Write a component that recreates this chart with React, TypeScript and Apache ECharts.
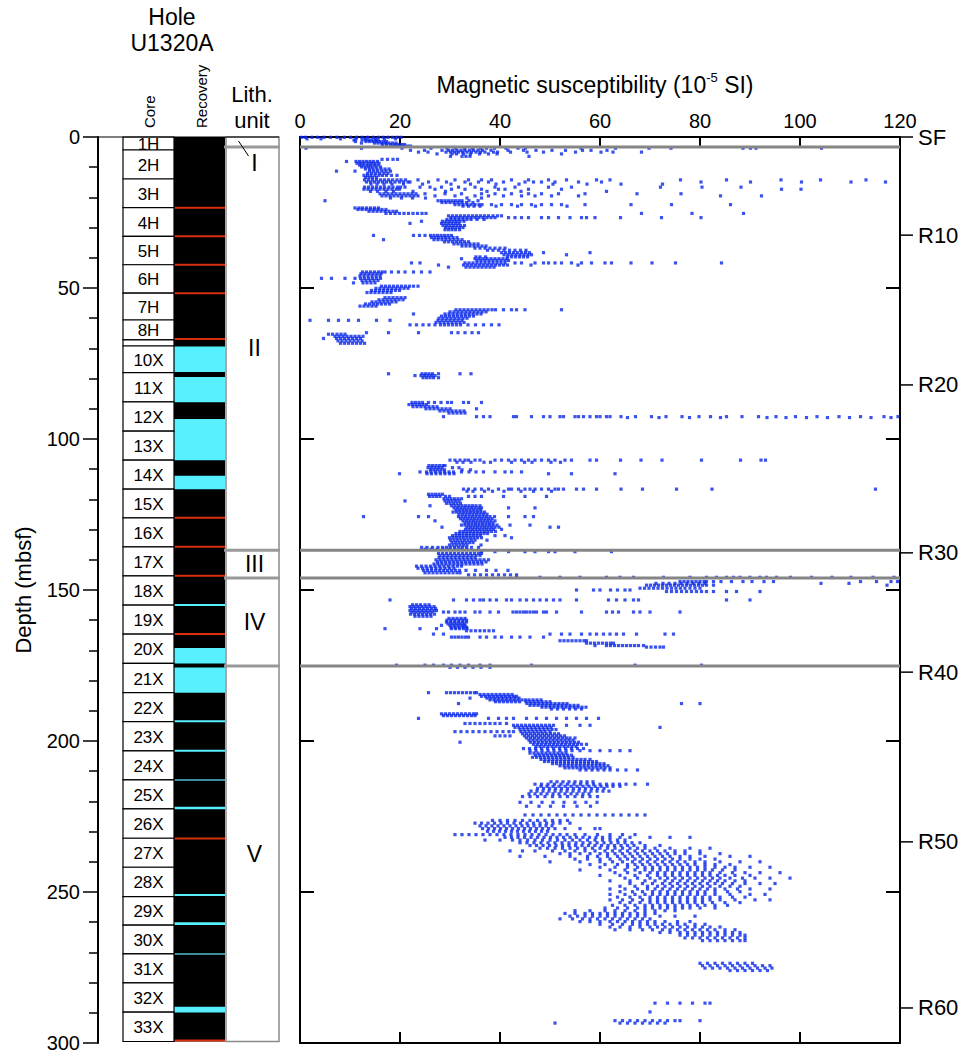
import React, { useEffect, useRef } from "react";
import * as echarts from "echarts";

const FONT = "'Liberation Sans', Arial, Helvetica, sans-serif";

// ---- Core column ----
const coreNames = ["1H","2H","3H","4H","5H","6H","7H","8H","9X","10X","11X","12X","13X","14X","15X","16X","17X","18X","19X","20X","21X","22X","23X","24X","25X","26X","27X","28X","29X","30X","31X","32X","33X"];
const coreTops = [0,4.3,13.9,23.4,32.9,42.3,51.7,60.6,67.2,69.2,78.0,87.7,97.4,107.0,116.6,126.1,135.7,145.3,155.0,164.6,174.3,184.0,193.6,203.3,212.9,222.5,232.2,241.8,251.5,261.0,270.5,280.1,289.8];
const coreBottoms = [4.3,13.9,23.4,32.9,42.3,51.7,60.6,67.2,69.2,78.0,87.7,97.4,107.0,116.6,126.1,135.7,145.3,155.0,164.6,174.3,184.0,193.6,203.3,212.9,222.5,232.2,241.8,251.5,261.0,270.5,280.1,289.8,299.5];

// ---- Recovery column ----
const recoveredTops = [0];
const recoveredBottoms = [299.5];
const gapTops = [69.4,79.5,93.4,112.2,154.6,169.2,175.7,193.1,202.9,221.8,250.7,260.0,288.0];
const gapBottoms = [77.8,87.8,107.0,116.6,155.1,174.3,184.0,193.6,203.3,222.6,251.3,260.9,289.9];
const voidDepths = [23.4,32.9,42.3,51.7,66.9,126.1,135.7,145.3,164.6,232.3,299.2];
const tealDepths = [212.9,270.5];

// ---- Lithologic units ----
const lithNames = ["I","II","III","IV","V"];
const lithTops = [0,3.3,136.8,146.0,175.2];
const lithBottoms = [3.3,136.8,146.0,175.2,299.5];
const lithLabelDepths = [8.6,70.0,141.4,160.6,237.4];

// ---- Seismic reflectors ----
const reflectorNames = ["SF","R10","R20","R30","R40","R50","R60"];
const reflectorDepths = [0,32.5,82.1,137.7,177.2,233.4,288.4];

// ---- Magnetic susceptibility rows: [depth (mbsf), values (1e-5 SI)] ----
const susRows: [number, number[]][] = [
[0.1,[0.3,1.1,2.4,3.5,4.8,6.1,7.4,8.9,10.1,11.3,12.4,13.5,14.6,15.7,16.6,17.6,18.5,19.4,20.2]],
[0.6,[1.4,4.2,8.1,11.2,13.0,15.1,16.9,19.1]],
[1.0,[10.8,12.4,13.1,13.7,14.3,15.0,15.6]],
[1.5,[11.1,13.2,13.9,14.6,15.3,16.0,16.7,17.3]],
[2.0,[12.3,14.9,15.6,16.3,17.1,17.8,18.5,19.2]],
[2.5,[16.5,17.3,18.1,18.9,19.6,20.3,20.9]],
[3.0,[18.6,19.4,20.1,20.8,21.5,22.1]],
[3.7,[1.2,12.3,20.4,26.2,29.4,31.1,32.9,34.5,36.1,37.3,38.9,41.2,43.6,45.1,56.2,63.1,69.8,74.2,88.6,90.1,91.2,104.3]],
[4.4,[22.1,24.9,28.4,29.7,30.5,31.4,32.2,33.0,33.9,34.7,35.6,36.5,38.2,41.6,44.7,47.2,50.4,53.1,56.5,58.2,61.4]],
[5.0,[23.7,25.6,29.2,30.1,30.9,31.7,32.5,33.4,34.3,35.2,36.1,37.0,38.7,39.5,42.1,45.4,48.7,55.1,60.2,62.6,68.3]],
[5.6,[27.4,30.4,31.3,32.7,34.1,35.9,37.7,39.4,52.3]],
[6.4,[30.1,32.4,33.2,34.0,45.8]],
[7.4,[16.4,17.5,18.6,19.5]],
[8.1,[9.3,11.2,11.9,12.6,13.3,14.0,14.7,15.5]],
[8.7,[11.4,12.1,12.8,13.6,14.3,15.0,15.8]],
[9.3,[11.9,12.6,13.4,14.1,14.9,15.6]],
[9.9,[12.3,13.0,13.7,14.4,15.2,16.1]],
[10.6,[13.1,13.9,14.6,15.4,16.2,17.0,17.8]],
[11.3,[7.3,11.0,13.9,14.7,15.5,16.4,17.2,18.1]],
[12.0,[13.5,14.3,15.1,15.9,16.8,17.6]],
[12.7,[12.8,13.5,14.2,15.0,15.8,16.5,17.3,18.3,19.4]],
[13.4,[13.1,13.8,14.5,15.3]],
[14.2,[12.9,13.7,14.5,15.3,16.1,16.9,17.7,18.5,19.4,20.2,21.1,23.6,27.6,31.0,33.7,36.3,38.3,42.3,45.7,49.7,53.3,59.3,62.0,76.1,85.3,96.2,104.1,113.2]],
[14.9,[13.3,14.1,14.9,15.7,16.5,17.3,18.1,19.0,19.9,20.7,21.6,22.0,25.7,29.3,33.0,35.7,37.7,40.7,45.0,46.7,48.3,51.0,55.7,60.3,80.2,90.1,100.3,110.2,117.1]],
[15.6,[14.2,15.4,16.8,18.4,20.7,24.5,30.2,34.1,39.2,43.8,50.6,57.4,64.2,72.5]],
[16.6,[12.9,13.7,14.5,15.3,16.1,16.9,17.8,18.6,19.5,20.1,21.0,24.0,26.0,28.3,31.7,35.0,39.0,43.0,49.7,54.3,72.1,80.4,88.2]],
[17.3,[12.8,13.6,14.4,15.2,16.0,16.8,17.6,18.4,19.3,19.9,27.0,30.3,33.0,36.3,39.7,41.0,45.7,52.3,96.3,100.2]],
[18.0,[14.1,15.5,17.2,18.7,22.6,29.1,37.4,44.2,61.3]],
[18.8,[16.0,16.8,17.6,18.4,19.2,20.0,20.8,21.6,22.4,23.2,25.0,29.0,32.3,36.3,39.0,42.3,45.7,48.3,51.7,57.0,67.4,76.2]],
[19.5,[16.4,17.2,18.0,18.8,19.6,20.4,21.2,22.0,22.8,23.6,27.0,31.0,35.0,37.7,40.7,44.3,47.0,50.3,55.7,84.1,92.3]],
[20.2,[18.1,20.3,22.5,25.1,33.4,36.3]],
[21.1,[5.0,27.6,28.3,29.0,29.7,30.4,31.1,31.8,32.4,33.8,35.6]],
[21.7,[28.4,29.2,30.0,30.8,31.6,32.4,33.3,34.6]],
[22.4,[31.0,31.8,32.6,33.4,34.2,35.0,35.8,36.4,38.3,40.3,42.3,44.3,46.3,48.3,50.3,52.3,57.0,66.2,74.3,86.1]],
[22.9,[32.6,33.7,34.8,36.0,39.2,43.5,47.1,53.4]],
[23.5,[11.0,11.8,12.5,13.3,14.1,14.9,15.7]],
[24.0,[11.6,12.4,13.2,14.0,14.8,15.6,16.4,17.2]],
[24.6,[13.8,14.6,15.4,16.2,17.0,17.8,18.6,19.3]],
[25.3,[17.2,18.1,19.0,19.9,20.8,21.7,22.6,23.5,24.4,25.2,68.3,78.4,88.7]],
[26.1,[29.7,30.5,31.3,32.1,32.9,33.7,34.5,35.3,36.1,36.9,37.7,38.6,39.5,40.3]],
[26.7,[30.2,31.0,31.8,32.6,33.4,34.2,35.0,35.8,36.6,37.4,38.2,39.0,41.7,43.0,44.3,45.7,48.3,49.7,51.7,54.0,56.3,57.3,59.0,64.1,72.3,80.2]],
[27.3,[29.4,30.2,31.0,31.8,32.6,33.4,34.2,35.4,36.8]],
[27.9,[24.3,28.5,29.2,29.9,30.6,31.3,32.0,32.8]],
[28.6,[22.0,28.3,29.0,29.7,30.4,31.1,31.8]],
[29.3,[28.6,29.3,30.0,30.7,31.4,32.1,32.9]],
[30.0,[29.1,29.8,30.5,31.2,31.9,32.6]],
[30.7,[29.0,29.7,30.4,31.1,31.9]],
[32.6,[14.7,22.7,23.9,25.0,26.1,26.8,27.5,28.2,28.9,29.6,30.3]],
[33.3,[26.3,27.0,27.7,28.4,29.1,29.8,30.6,31.4]],
[34.0,[16.7,26.8,27.6,28.4,29.2,30.0,30.8,31.6,32.4]],
[34.7,[28.9,29.7,30.5,31.3,32.1,32.9,33.7]],
[35.4,[30.8,31.6,32.4,33.2,34.0,34.8,35.6]],
[36.1,[32.4,33.2,34.0,34.8,35.6,36.4,37.2]],
[36.8,[35.0,36.0,37.0,38.0,39.0,40.0,41.0]],
[37.5,[37.5,38.6,39.7,40.8,41.9,43.0,44.1,45.2]],
[38.3,[40.3,41.1,41.9,42.7,43.5,44.3,45.1,45.9,48.7,58.0]],
[39.0,[40.8,41.6,42.4,43.2,44.0,44.8,45.6,46.3,53.3]],
[39.7,[35.2,36.0,37.1,41.5,42.3,43.1,43.9,44.7,45.5]],
[40.3,[32.3,35.0,35.8,36.6,37.4,38.2,39.0,39.8,40.6,41.4]],
[40.9,[35.4,36.2,37.0,37.8,38.6,39.4,40.2,41.0,41.7]],
[41.7,[24.0,22.3,33.0,33.8,34.6,35.4,36.2,37.0,37.8,38.6,39.4,40.2,41.0,43.0,44.3,47.0,48.7,49.7,51.0,52.3,54.3,56.3,58.3,61.0,62.3,66.2,70.4,75.1,84.3]],
[42.4,[27.7,32.7,33.5,34.3,35.1,35.9,36.7,37.5,38.3,39.1,39.9,40.7,41.5,46.2,55.6]],
[43.1,[29.7,33.2,34.0,34.8,35.6,36.4,37.2,38.0,38.8]],
[44.7,[12.5,13.3,14.1,14.9,15.7,16.4,17.0,18.3,19.7,21.0,22.7,24.3,26.0]],
[45.3,[12.2,13.0,13.8,14.6,15.4,16.2]],
[46.0,[12.0,12.8,13.6,14.4,15.2,16.0]],
[46.8,[4.3,6.3,9.0,11.0,12.1,12.9,13.7,14.5,15.3,16.1]],
[47.5,[12.4,13.2,14.0,14.8,15.6]],
[48.3,[10.7,12.6,13.4,14.2,15.0]],
[49.4,[16.3,17.1,17.9,18.7,19.5,20.3,21.1,21.9,22.7,23.6]],
[50.1,[15.2,16.0,16.8,17.6,18.4,19.2,20.0,20.8,21.6]],
[50.8,[14.3,15.1,15.9,16.7,17.5,18.3,19.1,19.9]],
[51.5,[13.4,14.2,15.0,15.8,16.6,17.4,18.2]],
[53.2,[17.0,17.8,18.6,19.4,20.2,21.0]],
[53.9,[15.8,16.6,17.4,18.2,19.0,19.8,20.6]],
[54.6,[14.4,15.2,16.0,16.8,17.6,18.4,19.2]],
[55.3,[13.1,13.9,14.7,15.5,16.3,17.1,17.9]],
[56.0,[12.0,12.8,13.6,14.4,15.2]],
[57.2,[31.2,32.0,32.8,33.6,34.4,35.2,36.0,36.8,37.6,38.4,39.1,40.7,42.3,43.3,45.0,52.3]],
[57.9,[30.0,30.8,31.6,32.4,33.2,34.0,34.8,35.6,36.4,37.2]],
[58.6,[22.7,29.0,29.8,30.6,31.4,32.2,33.0,33.8,34.6,35.4,36.2]],
[59.3,[28.3,29.1,29.9,30.7,31.5,32.3,33.1,33.9,34.7]],
[60.0,[27.8,28.6,29.4,30.2,31.0,31.8,32.6,33.4]],
[60.7,[2.0,5.7,7.7,9.7,11.7,15.3,18.0,27.6,28.4,29.2,30.0,30.8,31.6,32.4]],
[61.4,[27.2,28.0,28.8,29.6,30.4,31.2,32.0,32.8]],
[62.2,[22.0,23.3,24.6,25.8,27.0,28.1,28.9,29.7,30.5,31.3,32.1,33.6,35.1,36.7,38.3,39.8]],
[64.8,[13.3,17.7,23.7,30.3,31.6,33.0,34.4,35.7]],
[65.3,[5.7,6.5,7.4,8.2,9.0]],
[66.0,[7.0,7.8,8.6,9.4,10.2,11.0,11.8,12.6]],
[66.7,[4.7,7.3,8.1,8.9,9.7,10.5,11.3,12.1]],
[67.5,[7.6,8.4,9.2,10.0,10.8,11.6,12.4]],
[68.3,[8.1,8.9,9.7,10.5,11.3,12.1,12.9]],
[78.4,[17.7,24.4,25.1,25.8,26.5,27.7,32.0,34.2]],
[79.0,[23.0,24.2,24.9,25.6,26.3,27.0]],
[79.7,[24.6,25.3,26.0,26.7,27.7]],
[87.9,[22.4,23.1,23.8,24.5,25.7,26.9,28.2,29.5,30.3,32.7,33.7,36.3]],
[88.6,[21.8,22.5,23.2,23.9,24.6,25.3]],
[89.3,[22.6,23.4,24.2,25.0,25.8,26.6,27.4]],
[90.0,[25.2,26.0,26.8,27.6,28.4,29.2,30.0,35.3]],
[90.7,[28.0,28.8,29.6,30.4,31.2,32.0,32.8]],
[91.4,[29.8,30.6,31.4,32.2,33.0]],
[92.6,[28.7,35.3,36.7,38.0,42.7,43.3,46.3,48.7,50.0,52.0,52.7,55.0,55.7,56.7,58.0,59.3,60.0,61.3,62.0,64.2,67.1,70.3,73.2,76.4,79.8,82.1,85.3,88.4,91.7,95.2,99.1,103.4,107.8,112.1,116.8,119.6]],
[92.9,[65.5,71.8,77.9,84.1,93.4,97.2,101.3,105.5,109.9,114.2,118.2]],
[107.0,[30.0,31.0,32.0,33.0,33.7,35.0,36.0,39.0,40.3,41.7,43.0,44.3,45.7,47.0,48.3,49.7,51.0,53.0,54.3,58.0,59.3,64.1,68.2,72.4,80.3,88.1,92.2,93.1]],
[107.7,[31.4,32.6,34.2,36.8,38.1,42.3,44.9,46.4,50.2,52.1]],
[108.8,[25.8,26.5,27.2,27.9,28.6,29.0]],
[109.5,[25.6,26.3,27.0,27.7,28.4,30.5,31.8]],
[110.2,[26.1,26.8,27.5,28.2,28.9,32.4,34.1]],
[110.9,[24.0,25.3,26.2,27.1,28.0,28.9,29.8,30.7,32.3,33.8,35.2,36.7,39.0,41.0,42.3,44.3]],
[111.5,[19.9,25.4,26.3,27.2,28.1,29.0,29.9,30.8,49.7,54.3,63.0]],
[116.6,[32.7,33.7,35.0,36.3,37.7,39.7,41.7,42.3,43.7,45.0,46.0,47.0,48.3,49.7,51.0,51.7,52.7,55.3,56.7,59.3,64.2,68.5,75.3,82.4,115.1]],
[117.3,[33.4,34.6,36.9,38.5,40.8,44.2,46.7,50.3]],
[118.3,[25.7,26.4,27.1,27.8,28.5]],
[119.0,[25.9,26.6,27.3,28.0,29.1,29.9,33.7,35.0,36.3,40.7,45.0,49.3]],
[119.8,[28.8,29.5,30.2,30.9,31.6,32.3]],
[120.5,[21.0,29.0,29.7,30.4,31.1,31.8]],
[121.3,[29.3,30.0,30.7,31.4,32.1]],
[122.1,[26.0,30.3,31.0,31.7,32.4,33.1,33.8,34.5,35.2,36.0]],
[122.8,[30.8,31.5,32.2,32.9,33.6,34.3,35.0,35.7,36.3,41.7,47.0]],
[123.5,[31.2,31.9,32.6,33.3,34.0,34.7,35.4,36.1]],
[124.2,[30.6,31.3,32.0,32.7,33.4,34.1,34.8,35.5,36.2,36.9]],
[124.9,[31.8,32.5,33.2,33.9,34.6,35.3,36.0,36.7,37.4]],
[125.7,[12.7,23.7,25.7,31.7,32.4,33.1,33.8,34.5,35.2,35.9,36.6,37.3,38.0,38.9,41.7,45.0,46.7]],
[126.4,[32.1,32.8,33.5,34.2,34.9,35.6,36.3,37.0,37.7,38.4]],
[127.1,[27.0,32.6,33.3,34.0,34.7,35.4,36.1,36.8,37.5,38.2,39.0]],
[127.8,[33.0,33.7,34.4,35.1,35.8,36.5,37.2,37.9,38.6]],
[128.5,[32.3,33.0,33.7,34.4,35.1,35.8,36.5,37.2,37.9,38.6,39.4,42.0,46.0]],
[129.2,[28.4,33.4,34.1,34.8,35.5,36.2,36.9,37.6,38.3,39.0,39.8,50.0,51.7]],
[129.9,[33.1,33.8,34.5,35.2,35.9,36.6,37.3,38.0,38.7,40.3]],
[130.6,[32.0,32.7,33.4,34.1,34.8,35.5,36.2,36.9,37.6,38.3,39.1]],
[131.3,[31.2,31.9,32.6,33.3,34.0,34.7,35.4,36.1,36.8,37.5]],
[132.0,[30.5,31.2,31.9,32.6,33.3,34.0,34.7,35.4,36.1,39.0,41.0]],
[132.7,[29.9,30.6,31.3,32.0,32.7,33.4,34.1,34.8,35.5,36.3,42.3]],
[133.5,[30.1,30.8,31.5,32.2,32.9,33.6,34.3,35.0,37.4]],
[134.3,[30.4,31.1,31.8,32.5,33.2,33.9,34.6]],
[135.1,[29.9,30.6,31.3,32.0,32.7,33.4,36.2]],
[135.9,[24.3,25.4,26.5,27.6,28.5,29.3,30.1,30.9,31.7,32.5,33.3,34.3,35.7]],
[136.5,[25.0,26.2,27.4,28.6,29.8,31.0,32.2,33.4]],
[137.3,[36.3,39.0,41.7,45.0,47.0,49.7,51.0,55.0,62.3]],
[137.9,[27.7,28.5,29.3,30.1,30.9,31.7,32.5,33.3,34.1,34.9,35.7,36.3]],
[138.6,[28.0,28.8,29.6,30.4,31.2,32.0,32.8,33.6,34.4,35.2,36.0]],
[139.3,[27.8,28.6,29.4,30.2,31.0,31.8,32.6,33.4,34.2,35.0]],
[140.0,[27.2,28.0,28.8,29.6,30.4,31.2,32.0,32.8,33.6,34.4,35.2,36.0,36.8,37.7]],
[140.7,[27.5,28.3,29.1,29.9,30.7,31.5,32.3,33.1,33.9,34.7,35.5,36.3,37.2]],
[141.4,[26.8,27.6,28.4,29.2,30.0,30.8,31.6,32.4,33.2,34.0,34.8,35.6,36.4]],
[142.1,[23.3,24.3,25.2,26.1,27.0,27.9,28.8,29.7,30.6,31.5,32.3]],
[142.8,[23.6,24.5,25.4,26.3,27.2,28.1,29.0,29.9,30.8]],
[143.5,[24.7,25.5,26.3,27.1,27.9,28.7,29.5,30.3,31.1,31.9,33.2,35.1,37.3,39.2,41.6]],
[144.3,[25.0,25.8,26.6,27.4,28.2,29.0,29.8,30.6,31.4,32.0]],
[145.0,[33.7,34.9,36.1,37.3,38.5,39.7,40.9,42.1,43.3]],
[145.8,[43.3,48.0,52.0,56.0,61.3,64.0,66.7,72.7,78.0,81.3,83.3,85.3,86.7,88.0,90.0,92.0,93.3,95.3,98.1,102.3,106.4,110.2,114.6,118.8]],
[147.2,[76.0,76.8,77.6,78.4,79.2,80.0,80.8,81.3,82.7,84.2,86.3,88.6,90.4,92.8,94.7,112.1,115.3,118.2,119.5]],
[147.8,[71.2,72.6,73.8,75.0,76.2,77.4,78.6,79.8,81.0,104.2,109.8]],
[148.4,[69.3,70.1,70.9,71.7,72.5,73.3,74.1,74.9,75.7,76.5,77.3,78.1,78.9,79.7,80.5,81.3,82.7,117.4]],
[149.4,[68.0,68.9,69.8,70.7,71.6,72.5,73.4,74.3,75.2,76.1,77.0,78.0,79.0,80.0]],
[150.0,[55.3,58.7,60.0,62.1,63.5,65.0,66.0]],
[150.5,[73.3,74.3,75.3,76.3,77.3,78.3,79.3,80.3,81.3,82.7,85.3,87.3,92.0]],
[153.3,[18.0,30.7,33.3,34.7,36.0,36.7,38.0,39.3,41.3,42.3,44.0,45.3,46.7,48.0,49.3,50.7,52.0,55.3,61.7,63.3,65.0,66.7,67.7,85.3,90.0]],
[154.9,[22.5,23.3,24.1,25.0,25.8]],
[155.5,[22.0,22.8,23.6,24.4,25.2,26.0,26.8]],
[156.1,[22.3,23.1,23.9,24.7,25.5,26.3,27.1]],
[156.8,[22.0,22.8,23.6,24.4,25.2,26.0,26.8,27.3]],
[157.3,[22.4,23.2,24.0,24.8,25.6,26.4,28.7,29.7,31.0,32.0,33.0,35.0,36.0,38.0,39.7,42.6,43.3,44.0,44.7,45.3,46.0,46.7,47.3,48.7,49.3,51.3,56.3,61.3,62.5,63.7,66.7,68.0,70.0,76.0]],
[158.0,[22.1,22.9,23.7,24.5,25.3,26.1,26.9]],
[158.7,[23.0,23.8,24.6,25.4,26.2]],
[159.4,[29.8,30.6,31.4,32.2,33.0]],
[160.0,[29.4,30.2,31.0,31.8,32.6,33.3]],
[160.6,[29.3,30.1,30.9,31.7,32.5,33.3]],
[161.2,[29.6,30.4,31.2,32.0,32.8]],
[161.7,[28.3,30.0,30.8,31.6,32.4,33.0]],
[162.3,[30.2,31.0,31.8,32.6,33.3]],
[162.8,[17.0,24.0,27.3,30.3,31.1,31.9,32.7,33.4]],
[163.5,[33.3,34.2,35.1,36.0,36.9,37.8,38.7]],
[164.6,[26.7,28.7,50.0,52.3,54.0,56.3,58.0,59.3,60.7,62.0,63.3,64.7,67.3,73.0,74.7]],
[165.6,[30.3,31.0,31.7,32.4,33.1,33.7,36.0,37.3,39.0,40.3,42.3,44.0,46.0,48.7]],
[166.8,[52.0,52.8,53.6,54.4,55.2,56.0,56.8,57.3]],
[167.6,[57.3,58.1,58.9,59.7,60.5,61.3,62.1,62.7]],
[168.4,[59.0,61.3,62.1,62.9,63.7,64.5,65.3,66.1,66.9,67.7,68.7]],
[168.9,[69.3,70.2,71.1,72.0,72.7]],
[174.9,[19.3,25.0,26.7,28.7,30.3,32.0,33.7,36.0,38.0,46.3,67.0,80.3]],
[175.6,[30.0,31.5,33.0,34.6,36.2,38.0]],
[184.0,[25.7,29.3,30.1,30.9,31.7,32.5,33.3,34.1,34.9,35.3]],
[184.6,[36.0,36.8,37.6,38.4,39.2,40.0,40.8,41.6,42.4]],
[185.2,[36.3,37.1,37.9,38.7,39.5,40.3,41.1,41.9,42.7,43.3]],
[185.8,[34.0,37.4,38.2,39.0,39.8,40.6,41.4,42.2,43.0,43.8]],
[186.4,[38.0,38.8,39.6,40.4,41.2,42.0,42.8,43.6,44.4,45.1,45.8,46.6,47.4,48.2]],
[187.0,[39.1,39.9,40.7,41.5,42.3,43.1,43.9,45.2,46.0,46.8,47.6,48.4,49.2,50.0]],
[187.6,[31.7,45.4,46.2,47.0,47.8,48.6,49.4,50.2,51.0,51.8,52.6,53.4,76.3,80.0]],
[188.2,[46.0,46.8,47.6,48.4,49.2,50.0,50.8,51.6,52.4,53.2,54.0,54.8,55.6]],
[188.8,[48.4,49.2,50.0,50.8,51.6,52.4,53.2,54.0,54.8,55.6,56.4,57.2]],
[189.4,[50.3,51.5,52.7,53.9,55.1,56.3]],
[191.0,[28.3,29.1,29.9,30.7,31.5,32.3,33.1,33.9,34.7,35.3]],
[191.6,[28.7,29.5,30.3,31.1,31.9,32.7,33.5,34.3,35.0]],
[192.5,[23.7,37.7,39.7,41.3,42.7,45.3,47.3,49.3,51.3,53.3,55.3,57.3,59.7]],
[194.2,[33.0,34.0,35.0,36.0,37.0,38.0,39.0,40.0,41.3]],
[194.8,[42.7,43.5,44.3,45.1,45.9,46.7,47.5,48.3,49.1,49.9,50.7,53.3,56.0,58.0]],
[195.5,[43.0,43.8,44.6,45.4,46.2,47.0,47.8,48.6,49.4,50.2,72.0]],
[196.2,[44.0,44.8,45.6,46.4,47.2,48.0,48.8,49.6,50.4,51.2]],
[196.9,[31.0,32.2,33.4,34.6,35.8,37.0,38.2,39.4,40.6,41.8,42.7,44.2,45.0,45.8,46.6,47.4,48.2,49.0,50.0]],
[197.6,[44.5,45.3,46.1,46.9,47.7,48.5,49.3,50.1,50.9,51.7]],
[198.3,[39.0,40.0,41.0,42.0,44.9,45.7,46.5,47.3,48.1,48.9,49.7,50.5,51.3,52.1,52.9]],
[199.0,[45.3,46.1,46.9,47.7,48.5,49.3,50.1,50.9,51.7,52.5,53.3,54.0,55.0]],
[199.7,[45.8,46.6,47.4,48.2,49.0,49.8,50.6,51.4,52.2,53.0,53.8,54.6]],
[200.4,[32.0,46.1,46.9,47.7,48.5,49.3,50.1,50.9,51.7,52.5,53.3,54.1,54.9,55.7]],
[201.1,[46.7,47.5,48.3,49.1,49.9,50.7,51.5,52.3,53.1,53.9,54.7,55.5,56.3,57.3]],
[201.8,[47.2,48.0,48.8,49.6,50.4,51.2,52.0,52.8,53.6,54.4,55.2]],
[202.5,[44.7,45.9,47.1,48.3,49.5,50.7,51.9,53.1,54.3,55.5,56.7]],
[203.2,[46.0,47.2,48.4,49.6,50.8,52.0,53.2,54.4,56.0,58.0,60.0,62.0,64.0,66.0]],
[204.0,[46.0,46.8,47.6,48.4,49.2,50.0,50.8,51.6,52.4,53.2]],
[204.7,[47.1,47.9,48.7,49.5,50.3,51.1,51.9,52.7,53.5,54.3]],
[205.4,[46.5,47.3,48.1,48.9,49.7,50.5,51.3,52.1,52.9,53.7,54.6]],
[206.1,[48.2,49.0,49.8,50.6,51.4,52.2,53.0,53.8,54.6,55.4,56.2,57.0,58.0]],
[206.8,[48.9,49.7,50.5,51.3,52.1,52.9,53.7,54.5,55.3,56.1,56.9,57.7,58.5,59.3]],
[207.5,[50.5,51.3,52.1,52.9,53.7,54.5,55.3,56.1,56.9,57.7,58.5,59.3,60.0,60.8]],
[208.2,[52.0,52.8,53.6,54.4,55.2,56.0,56.8,57.6,58.4,59.2,60.0,60.8,61.6]],
[208.9,[53.0,53.8,54.6,55.4,56.2,57.0,57.8,58.6,59.4,60.2,61.0,62.0]],
[209.6,[56.0,57.2,58.4,59.6,60.8,62.0,63.5,65.2,67.5]],
[213.5,[50.2,51.4,52.6,53.8,55.0,56.2,57.4,58.6]],
[214.3,[47.0,48.3,49.6,50.9,52.2,53.5,54.8,56.1,57.4,58.7,60.0,61.3,62.6,63.9,65.2,67.0,69.5]],
[215.0,[48.2,49.4,50.6,51.8,53.0,54.2,55.4,56.6,57.8,59.0,60.2,61.4,62.6,64.0]],
[215.7,[47.5,48.7,49.9,51.1,52.3,53.5,54.7,55.9,57.1,58.3,59.5,60.8]],
[216.6,[46.2,47.4,48.6,49.8,51.0,52.2,53.4,54.6,55.8,57.0,58.2,59.4,60.6,61.8]],
[217.5,[45.8,47.0,48.2,49.4,50.6,51.8,53.0,54.2,55.4,56.6,57.8]],
[218.4,[44.5,46.0,47.5,49.0,50.5,52.0,53.5,55.0,56.5,58.0,59.5]],
[220.3,[44.0,46.2,48.4,50.6,52.8,55.0,57.2,59.4]],
[221.6,[45.3,47.8,50.1,52.7,55.4,58.1]],
[224.5,[45.0,46.6,48.2,49.8,51.4,53.0,54.6,56.2,57.8,59.4,61.0,62.6,64.2,65.8,67.4,69.0]],
[226.3,[38.5,40.0,41.5,43.0,44.5,46.0,47.5,49.0,50.5,52.0,53.5]],
[227.2,[35.0,36.3,37.6,38.9,40.2,41.5,42.8,44.1,45.4,46.7,48.0,49.3,50.6,52.0,54.0]],
[228.1,[36.0,37.2,38.4,39.6,40.8,42.0,43.2,44.4,45.6,46.8,48.0,49.2,50.4]],
[229.0,[36.5,37.7,38.9,40.1,41.3,42.5,43.7,44.9,46.1,47.3,48.5,49.7,51.0,53.0,56.0,59.0,60.0]],
[229.9,[37.5,38.7,39.9,41.1,42.3,43.5,44.7,45.9,47.1,48.3,49.5]],
[231.0,[31.0,32.4,33.8,35.2,36.6,38.0,39.4,40.8,42.2,43.6,45.0,46.4,47.8,49.2,50.6,52.0,53.4,55.0,57.0,59.5,62.0,64.5,67.0]],
[231.9,[41.0,42.3,43.6,44.9,46.2,47.5,48.8,50.1,51.4,52.7,54.0,55.3,56.6,57.9,59.2,60.5,62.0,64.0,66.0,70.0,74.0,78.0]],
[232.8,[37.0,40.0,42.5,44.0,45.5,47.0,48.5,50.0,51.5,53.0,54.5,56.0,57.5,59.0,60.5,62.0,63.5,65.0]],
[233.7,[44.0,45.4,46.8,48.2,49.6,51.0,52.4,53.8,55.2,56.6,58.0,59.4,60.8,62.2,63.6,65.0,66.4,68.0]],
[234.6,[46.0,47.3,48.6,49.9,51.2,52.5,53.8,55.1,56.4,57.7,59.0,60.3,61.6,62.9,64.2,65.5,66.8,69.0,72.0]],
[235.5,[48.0,49.5,51.0,52.5,54.0,55.5,57.0,58.5,60.0,61.5,63.0,64.5,66.0,67.5,69.0,71.0,74.0,78.0,82.0]],
[236.4,[42.0,44.5,47.0,50.5,53.0,55.0,57.0,59.0,61.0,62.5,64.0,65.5,67.0,68.5,70.0,71.5,73.0,75.0,77.0,80.0]],
[237.3,[52.0,54.0,56.0,58.0,60.0,61.5,63.0,64.5,66.0,67.5,69.0,70.5,72.0,73.5,75.0,77.0,80.0,84.0]],
[238.2,[44.0,49.0,54.0,57.5,59.5,61.5,63.5,65.0,66.5,68.0,69.5,71.0,72.5,74.0,76.0,78.0,81.0,86.0,90.0]],
[239.1,[55.0,57.5,60.0,62.0,64.0,65.5,67.0,68.5,70.0,71.5,73.0,74.5,76.0,78.0,80.0,83.0]],
[240.0,[50.0,56.0,60.0,62.5,64.5,66.5,68.0,69.5,71.0,72.5,74.0,75.5,77.0,79.0,81.0,84.0,88.0,92.0]],
[240.9,[58.0,61.0,63.5,65.5,67.0,68.5,70.0,71.5,73.0,74.5,76.0,77.5,79.0,81.0,83.0,86.0]],
[241.8,[60.0,63.0,65.5,67.5,69.0,70.5,72.0,73.5,75.0,76.5,78.0,79.5,81.0,83.0,85.0,87.0,90.0,94.0]],
[242.7,[56.0,62.0,65.0,67.0,69.0,70.5,72.0,73.5,75.0,76.5,78.0,79.5,81.0,82.5,84.5,87.0]],
[243.6,[63.0,65.5,68.0,70.0,71.5,73.0,74.5,76.0,77.5,79.0,80.5,82.0,84.0,86.5,89.0,92.0,96.0]],
[244.5,[60.0,64.0,67.0,69.5,71.5,73.0,74.5,76.0,77.5,79.0,80.5,82.0,83.5,85.0,87.0,90.0]],
[245.4,[65.0,67.5,70.0,72.0,73.5,75.0,76.5,78.0,79.5,81.0,82.5,84.0,86.0,88.5,91.0,94.0,98.0]],
[246.3,[62.0,66.0,69.0,71.0,73.0,74.5,76.0,77.5,79.0,80.5,82.0,83.5,85.0,87.0,89.0]],
[247.2,[66.0,68.5,70.5,72.5,74.0,75.5,77.0,78.5,80.0,81.5,83.0,84.5,86.5,89.0,92.0,95.0]],
[248.1,[64.0,67.0,69.5,71.5,73.0,74.5,76.0,77.5,79.0,80.5,82.0,84.0,86.0,88.0]],
[249.0,[62.0,65.0,67.5,69.5,71.0,72.5,74.0,75.5,77.0,78.5,80.0,81.5,83.0,85.0,87.5,90.0,94.0]],
[249.9,[64.0,66.5,68.5,70.5,72.0,73.5,75.0,76.5,78.0,79.5,81.0,83.0,85.5,88.0]],
[250.8,[62.0,65.0,67.0,69.0,70.5,72.0,73.5,75.0,76.5,78.0,79.5,81.0,83.0,86.0,90.0,93.0]],
[251.7,[63.5,66.0,68.0,70.0,71.5,73.0,74.5,76.0,77.5,79.0,80.5,82.0,84.0,86.5,89.0]],
[252.6,[62.0,64.5,66.5,68.5,70.0,71.5,73.0,74.5,76.0,77.5,79.0,80.5,82.0,84.0,87.0,91.0,94.0]],
[253.5,[64.0,66.0,68.0,70.0,71.5,73.0,74.5,76.0,77.5,79.0,80.5,82.5,85.0,88.0]],
[254.4,[62.5,65.0,67.0,69.0,70.5,72.0,73.5,75.0,76.5,78.0,79.5,81.0,83.0,85.5]],
[255.3,[61.0,63.5,65.5,67.5,69.0,70.5,72.0,73.5,75.0,76.5,78.0,80.0,83.0]],
[256.2,[55.0,58.0,61.0,63.0,65.0,67.0,69.0,71.0,73.0,75.0]],
[257.1,[53.0,55.0,57.0,58.5,60.0,61.5,63.0,64.5,66.0,67.5,69.0,71.0]],
[258.0,[54.0,55.5,57.0,58.5,60.0,61.5,63.0,64.5,66.0,67.5,69.0,72.0,75.0,79.0]],
[258.9,[52.0,54.5,56.5,58.0,59.5,61.0,62.5,64.0,65.5,67.0,68.5,70.0]],
[259.8,[56.0,58.0,60.0,62.0,63.5,65.0,66.5,68.0,69.5,71.0,73.0,75.5,78.0]],
[260.7,[60.0,62.5,64.5,66.5,68.0,69.5,71.0,72.5,74.0,75.5,77.0,79.0,81.0]],
[261.6,[62.0,64.0,66.0,68.0,70.0,71.5,73.0,74.5,76.0,77.5,79.0,80.5,82.0,84.0]],
[262.5,[63.0,66.0,68.5,70.5,72.5,74.0,75.5,77.0,78.5,80.0,81.5,83.0,85.0,87.0]],
[263.4,[72.0,74.0,76.0,77.5,79.0,80.5,82.0,83.5,85.0,86.5,88.0]],
[264.3,[76.0,77.5,79.0,80.5,82.0,83.5,85.0,86.5,88.0,89.0]],
[265.2,[77.0,78.5,80.0,81.5,83.0,84.5,86.0,87.5,89.0]],
[266.1,[80.5,82.0,83.5,85.0,86.5,88.0,89.0]],
[273.6,[80.0,81.5,83.0,84.5,86.0,87.5,89.0,90.5]],
[274.4,[80.5,82.0,83.5,85.0,86.5,88.0,89.5,91.0,92.5,94.0]],
[275.2,[81.0,82.5,84.0,85.5,87.0,88.5,90.0,91.5,93.0,94.4]],
[276.0,[86.0,87.5,89.0,90.5,92.0,93.5]],
[286.8,[71.0,73.5,76.0,78.5,81.0,82.0]],
[289.7,[70.0]],
[292.6,[63.0,64.5,66.0,67.5,69.0,70.5,72.0,73.5,75.0,76.0,80.0]],
[293.4,[51.0,64.0,65.5,67.0,68.5,70.0,71.5,73.0]],
];

// Layout of the left columns (px offsets from the depth axis line)
const COL = { coreL: 25, coreR: 76, recL: 76, recR: 127, lithL: 128, lithR: 181 };

export default function App() {
  const ref = useRef<HTMLDivElement>(null);
  useEffect(() => {
    if (!ref.current) return;
    const chart = echarts.init(ref.current, null, { renderer: "svg" });

    const points: number[][] = [];
    susRows.forEach(([d, vals]) => vals.forEach((v) => points.push([v, d])));

    const frameLine = { show: true, onZero: false, lineStyle: { color: "#000", width: 2 } };
    const frameTick = (len: number) => ({ show: true, inside: true, length: len, lineStyle: { color: "#000", width: 2 } });

    const option: any = {
      animation: false,
      backgroundColor: "#fff",
      textStyle: { fontFamily: FONT },
      grid: [
        { left: 300, top: 137, width: 600, height: 906 },
        { left: 98, top: 137, width: 181, height: 906 },
      ],
      xAxis: [
        {
          gridIndex: 0, type: "value", position: "top", min: 0, max: 120, interval: 20,
          axisLine: frameLine, axisTick: frameTick(11),
          axisLabel: { show: true, fontSize: 20, color: "#000", margin: 6, fontFamily: FONT },
          splitLine: { show: false },
        },
        {
          gridIndex: 0, type: "value", position: "bottom", min: 0, max: 120, interval: 20,
          axisLine: frameLine, axisTick: frameTick(11),
          axisLabel: { show: false }, splitLine: { show: false },
        },
        { gridIndex: 1, type: "value", min: 0, max: 181, show: false },
      ],
      yAxis: [
        {
          gridIndex: 0, type: "value", inverse: true, min: 0, max: 300, interval: 50, position: "left",
          axisLine: frameLine, axisTick: frameTick(14),
          axisLabel: { show: false }, splitLine: { show: false },
        },
        {
          gridIndex: 0, type: "value", inverse: true, min: 0, max: 300, interval: 50, position: "right",
          axisLine: frameLine, axisTick: frameTick(14),
          axisLabel: { show: false }, splitLine: { show: false },
        },
        {
          gridIndex: 1, type: "value", inverse: true, min: 0, max: 300, interval: 50, position: "left",
          axisLine: frameLine,
          axisTick: { show: true, length: 15, lineStyle: { color: "#000", width: 1.5 } },
          minorTick: { show: true, splitNumber: 5, length: 9, lineStyle: { color: "#000", width: 1.5 } },
          axisLabel: { show: true, fontSize: 20, color: "#000", margin: 18, fontFamily: FONT },
          splitLine: { show: false },
          name: "Depth (mbsf)", nameLocation: "middle", nameGap: 64, nameRotate: 90,
          nameTextStyle: { fontSize: 22, color: "#000", fontFamily: FONT },
        },
      ],
      series: [
        // lith boundaries on main plot
        {
          type: "custom", xAxisIndex: 0, yAxisIndex: 0, silent: true, z: 3,
          data: lithTops.slice(1).map((d) => [0, d]),
          renderItem: (params: any, api: any) => {
            const d = api.value(1);
            const a = api.coord([0, d]);
            const b = api.coord([120, d]);
            return { type: "line", shape: { x1: a[0], y1: a[1], x2: b[0], y2: b[1] }, style: { stroke: "#858585", lineWidth: 3 } };
          },
        },
        {
          type: "scatter", xAxisIndex: 0, yAxisIndex: 0, silent: true, z: 2,
          symbol: "rect", symbolSize: 3.2,
          itemStyle: { color: "#0A28E8" },
          data: points,
        },
        // reflectors
        {
          type: "custom", xAxisIndex: 0, yAxisIndex: 0, silent: true, clip: false, z: 4,
          data: reflectorDepths.map((d) => [120, d]),
          renderItem: (params: any, api: any) => {
            const p = api.coord([120, api.value(1)]);
            return {
              type: "group",
              children: [
                { type: "line", shape: { x1: p[0], y1: p[1], x2: p[0] + 13, y2: p[1] }, style: { stroke: "#000", lineWidth: 1.5 } },
                { type: "text", x: p[0] + 18, y: p[1], style: { text: reflectorNames[params.dataIndex], fontSize: 22, fontFamily: FONT, fill: "#000", align: "left", verticalAlign: "middle" } },
              ],
            };
          },
        },
        // recovery (black)
        {
          type: "custom", xAxisIndex: 2, yAxisIndex: 2, silent: true, z: 2,
          data: recoveredTops.map((t, i) => [t, recoveredBottoms[i]]),
          renderItem: (params: any, api: any) => {
            const y0 = api.coord([0, api.value(0)])[1];
            const y1 = api.coord([0, api.value(1)])[1];
            const x0 = api.coord([COL.recL, 0])[0];
            const x1 = api.coord([COL.recR, 0])[0];
            return { type: "rect", shape: { x: x0, y: y0, width: x1 - x0, height: y1 - y0 }, style: { fill: "#000" } };
          },
        },
        // recovery gaps (cyan)
        {
          type: "custom", xAxisIndex: 2, yAxisIndex: 2, silent: true, z: 3,
          data: gapTops.map((t, i) => [t, gapBottoms[i]]),
          renderItem: (params: any, api: any) => {
            const y0 = api.coord([0, api.value(0)])[1];
            const y1 = api.coord([0, api.value(1)])[1];
            const x0 = api.coord([COL.recL, 0])[0];
            const x1 = api.coord([COL.recR, 0])[0];
            return { type: "rect", shape: { x: x0, y: y0, width: x1 - x0, height: Math.max(2, y1 - y0) }, style: { fill: "#58F0FF" } };
          },
        },
        // voids (red)
        {
          type: "custom", xAxisIndex: 2, yAxisIndex: 2, silent: true, z: 4,
          data: voidDepths.map((d) => [0, d]),
          renderItem: (params: any, api: any) => {
            const y = api.coord([0, api.value(1)])[1];
            const x0 = api.coord([COL.recL, 0])[0];
            const x1 = api.coord([COL.recR, 0])[0];
            return { type: "rect", shape: { x: x0, y: y - 1, width: x1 - x0, height: 2 }, style: { fill: "#D8300E" } };
          },
        },
        // thin teal
        {
          type: "custom", xAxisIndex: 2, yAxisIndex: 2, silent: true, z: 4,
          data: tealDepths.map((d) => [0, d]),
          renderItem: (params: any, api: any) => {
            const y = api.coord([0, api.value(1)])[1];
            const x0 = api.coord([COL.recL, 0])[0];
            const x1 = api.coord([COL.recR, 0])[0];
            return { type: "rect", shape: { x: x0, y: y - 1, width: x1 - x0, height: 2 }, style: { fill: "#3C8E9C" } };
          },
        },
        // cores
        {
          type: "custom", xAxisIndex: 2, yAxisIndex: 2, silent: true, z: 5,
          data: coreTops.map((t, i) => [t, coreBottoms[i]]),
          renderItem: (params: any, api: any) => {
            const i = params.dataIndex;
            const y0 = api.coord([0, api.value(0)])[1];
            const y1 = api.coord([0, api.value(1)])[1];
            const x0 = api.coord([COL.coreL, 0])[0];
            const x1 = api.coord([COL.coreR, 0])[0];
            const children: any[] = [
              { type: "rect", shape: { x: x0, y: y0, width: x1 - x0, height: y1 - y0 }, style: { fill: "#fff", stroke: "#000", lineWidth: 1.2 } },
            ];
            if (y1 - y0 >= 9) {
              children.push({ type: "text", x: (x0 + x1) / 2, y: (y0 + y1) / 2 + 1, style: { text: coreNames[i], fontSize: 17, fontFamily: FONT, fill: "#000", align: "center", verticalAlign: "middle" } });
            }
            return { type: "group", children };
          },
        },
        // lith unit boxes and boundaries
        {
          type: "custom", xAxisIndex: 2, yAxisIndex: 2, silent: true, z: 5,
          data: lithTops.map((t, i) => [t, lithBottoms[i]]),
          renderItem: (params: any, api: any) => {
            const i = params.dataIndex;
            const y0 = api.coord([0, api.value(0)])[1];
            const y1 = api.coord([0, api.value(1)])[1];
            const x0 = api.coord([COL.lithL, 0])[0];
            const x1 = api.coord([COL.lithR, 0])[0];
            const children: any[] = [
              { type: "rect", shape: { x: x0, y: y0, width: x1 - x0, height: y1 - y0 }, style: { fill: "#fff", stroke: "#8a8a8a", lineWidth: 1.5 } },
            ];
            if (i > 0) {
              children.push({ type: "line", shape: { x1: x0 - 2, y1: y0, x2: x1, y2: y0 }, style: { stroke: "#999", lineWidth: 3 } });
            }
            return { type: "group", children };
          },
        },
        // lith unit labels (drawn above the boxes)
        {
          type: "custom", xAxisIndex: 2, yAxisIndex: 2, silent: true, z: 7,
          data: lithTops.map((t, i) => [t, lithBottoms[i]]),
          renderItem: (params: any, api: any) => {
            const i = params.dataIndex;
            const top = api.value(0), bot = api.value(1);
            const y0 = api.coord([0, top])[1];
            const y1 = api.coord([0, bot])[1];
            const x0 = api.coord([COL.lithL, 0])[0];
            const x1 = api.coord([COL.lithR, 0])[0];
            const ly = api.coord([0, lithLabelDepths[i]])[1];
            const cx = (x0 + x1) / 2;
            const children: any[] = [
              { type: "text", x: cx + 2, y: ly, style: { text: lithNames[i], fontSize: 23, fontFamily: FONT, fill: "#000", align: "center", verticalAlign: "middle" } },
            ];
            if (lithLabelDepths[i] > bot) {
              const ym = (y0 + y1) / 2;
              children.push({ type: "line", shape: { x1: cx - 14, y1: ym - 1, x2: cx - 4, y2: ly - 7 }, style: { stroke: "#000", lineWidth: 1 } });
            }
            return { type: "group", children };
          },
        },
        // top line at depth 0 across the columns
        {
          type: "custom", xAxisIndex: 2, yAxisIndex: 2, silent: true, z: 6,
          data: [[0, 0]],
          renderItem: (params: any, api: any) => {
            const a = api.coord([0, 0]);
            const b = api.coord([COL.lithR, 0]);
            return { type: "line", shape: { x1: a[0], y1: a[1], x2: b[0], y2: b[1] }, style: { stroke: "#000", lineWidth: 1.2 } };
          },
        },
      ],
      graphic: [
        { type: "text", x: 172, y: 17, style: { text: "Hole", fontSize: 23, fontFamily: FONT, fill: "#000", align: "center", verticalAlign: "middle" } },
        { type: "text", x: 172, y: 43, style: { text: "U1320A", fontSize: 23, fontFamily: FONT, fill: "#000", align: "center", verticalAlign: "middle" } },
        { type: "text", x: 149, y: 128, rotation: Math.PI / 2, style: { text: "Core", fontSize: 15, fontFamily: FONT, fill: "#000", align: "left", verticalAlign: "middle" } },
        { type: "text", x: 201, y: 128, rotation: Math.PI / 2, style: { text: "Recovery", fontSize: 15, fontFamily: FONT, fill: "#000", align: "left", verticalAlign: "middle" } },
        { type: "text", x: 252, y: 94, style: { text: "Lith.", fontSize: 22, fontFamily: FONT, fill: "#000", align: "center", verticalAlign: "middle" } },
        { type: "text", x: 252, y: 120, style: { text: "unit", fontSize: 22, fontFamily: FONT, fill: "#000", align: "center", verticalAlign: "middle" } },
        {
          type: "text", x: 595, y: 85,
          style: {
            text: "{a|Magnetic susceptibility (10}{b|-5}{a| SI)}",
            align: "center", verticalAlign: "middle", fill: "#000",
            rich: {
              a: { fontSize: 23, fontFamily: FONT, lineHeight: 28, fill: "#000" },
              b: { fontSize: 13, fontFamily: FONT, lineHeight: 13, verticalAlign: "top", fill: "#000" },
            },
          },
        },
      ],
    };
    chart.setOption(option);
    return () => chart.dispose();
  }, []);
  return <div ref={ref} style={{ position: "absolute", left: 0, top: 0, width: 967, height: 1057, background: "#fff" }} />;
}
